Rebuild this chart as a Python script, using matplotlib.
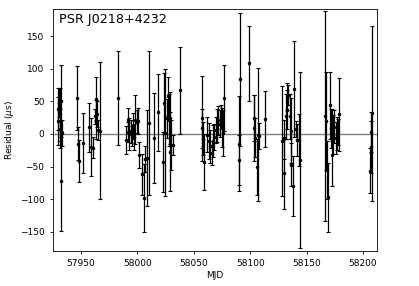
import numpy as np
import matplotlib.pyplot as plt

# residuos de timing (MJD, residuo en us, error en us)
mjd = [57929.5, 57930.0, 57930.5, 57931.0, 57931.5, 57932.0, 57932.5, 57933.0,
       57946.3, 57947.2, 57948.0, 57951.6, 57957.0, 57959.3, 57960.8, 57962.0,
       57963.0, 57963.7, 57964.3, 57965.0, 57966.7,
       57982.7,
       57990.1, 57991.3, 57992.1, 57993.0, 57994.3, 57995.0, 57996.0, 57997.2,
       57998.3, 57999.6, 58000.5, 58001.0, 58004.0, 58005.5, 58007.0, 58008.5,
       58010.5, 58014.3, 58017.9,
       58022.7, 58023.2, 58024.7, 58026.2, 58027.1, 58027.7, 58028.6, 58029.2,
       58030.1, 58031.2,
       58038.0,
       58057.3, 58057.6, 58058.2, 58058.8, 58061.8, 58063.2, 58064.7, 58066.2,
       58067.1, 58068.3, 58069.4, 58070.6, 58071.8, 58073.0, 58074.2, 58075.1,
       58076.0, 58076.5,
       58089.8, 58090.2, 58091.3, 58098.7, 58103.2, 58103.7, 58104.3, 58106.2,
       58107.0, 58108.0, 58113.5,
       58128.4, 58129.8, 58130.4, 58131.3, 58132.2, 58132.8, 58133.7, 58134.9,
       58135.8, 58136.6, 58137.8, 58138.7, 58140.2, 58141.7, 58143.1, 58144.0,
       58166.2, 58166.8, 58168.3, 58168.9, 58170.7, 58171.3, 58172.2, 58172.8,
       58173.7, 58174.6, 58175.7, 58177.2, 58177.8, 58178.7,
       58206.2, 58206.8, 58207.4, 58207.7]
res = [20, 38, 48, 30, 8, 50, -72, 2,
       55, -15, -41, -14, 10, -20, -21, 27,
       22, 54, 30, 6, 5,
       55,
       -9, 21, 3, 0, 4, -3, 12, -5,
       22, 19, 20, -32, -62, -98, -39, -37,
       17, -6, 33,
       -43, 47, 2, 24, 58, 21, -27, 24,
       -17, -17,
       67,
       24, 9, -7, -43, -1, -11, -19, -29,
       -11, -4, 6, 13, 21, 16, 26, 10,
       2, 55,
       -40, -15, 84, 108, 9, 24, -6, -50,
       -1, -3, 23,
       -11, -60, -8, 27, 37, 57, 60, 27,
       5, -47, -80, 69, 8, -9, -9, -40,
       27, 20, -55, -97, 44, 9, -32, 14,
       -1, 11, -6, 1, 3, 30,
       -56, -20, 3, 32]
err = [37, 32, 22, 40, 30, 55, 76, 20,
       49, 25, 32, 46, 37, 45, 16, 12,
       30, 34, 20, 15, 105,
       72,
       21, 19, 15, 25, 18, 15, 20, 20,
       38, 18, 20, 20, 32, 52, 20, 73,
       110, 69, 59,
       46, 47, 97, 30, 30, 40, 60, 40,
       38, 15,
       67,
       65, 30, 25, 43, 27, 28, 25, 18,
       25, 20, 20, 25, 22, 20, 18, 30,
       35, 50,
       38, 73, 102, 58, 51, 35, 30, 43,
       102, 20, 43,
       84, 55, 30, 34, 30, 21, 15, 35,
       50, 33, 46, 73, 12, 25, 40, 135,
       161, 75, 45, 53, 51, 30, 48, 25,
       30, 25, 25, 25, 20, 56,
       35, 40, 30, 134]

fig = plt.figure(figsize=(4.19, 2.86), dpi=100)
ax = fig.add_axes([0.126, 0.123, 0.774, 0.8445])
ax.axhline(0, color='gray', lw=1)
ax.errorbar(mjd, res, yerr=err, fmt='.', color='k', ecolor='k',
            ms=3, elinewidth=0.9, capsize=1.5, capthick=0.8)
ax.set_xlim(57925, 58212.5)
ax.set_ylim(-179, 191)
ax.set_xticks([57950, 58000, 58050, 58100, 58150, 58200])
ax.set_yticks([-150, -100, -50, 0, 50, 100, 150])
ax.tick_params(labelsize=6.5, length=2.5, width=0.6)
for s in ax.spines.values():
    s.set_linewidth(0.6)
ax.set_xlabel('MJD', fontsize=6.5, labelpad=2)
ax.set_ylabel(r'Residual ($\mu$s)', fontsize=6.5, labelpad=3)
ax.text(0.02, 0.985, 'PSR J0218+4232', transform=ax.transAxes,
        fontsize=9.2, va='top', ha='left')
fig.savefig('out.png', dpi=100)
